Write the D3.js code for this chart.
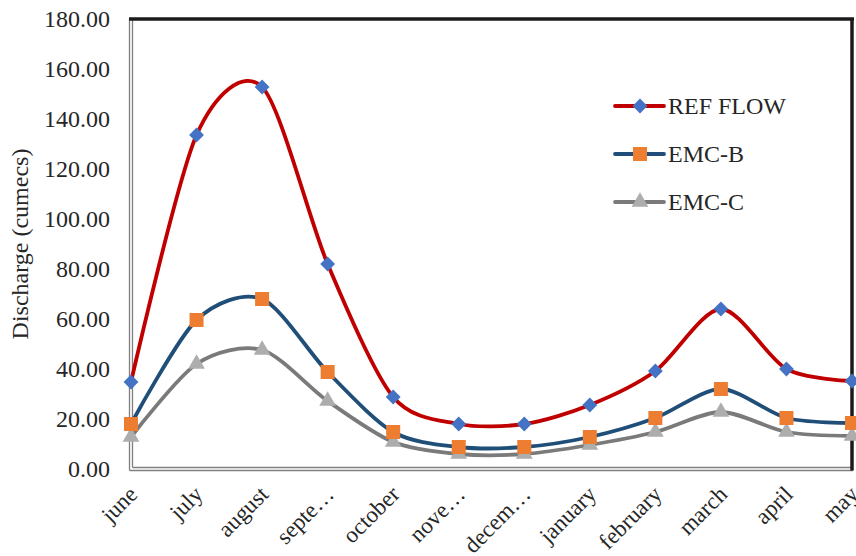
<!DOCTYPE html>
<html>
<head>
<meta charset="utf-8">
<script src="https://cdn.jsdelivr.net/npm/d3@7"></script>
<style>
  html, body { margin: 0; padding: 0; background: #fff; }
  svg { display: block; }
  text { font-family: "Liberation Serif", "Times New Roman", serif; fill: #262626; }
</style>
</head>
<body>
<svg id="chart" width="856" height="556"></svg>
<script>
// Monthly discharge data
const months = ["june", "july", "august", "septe\u2026", "october", "nove\u2026", "decem\u2026",
                "january", "february", "march", "april", "may"];
const refFlow = [34.8, 133.6, 152.8, 82.0, 28.8, 18.0, 18.0, 25.6, 39.2, 64.0, 40.0, 35.2];
const emcB    = [18.0, 59.6, 68.0, 38.8, 14.8, 8.8, 8.8, 12.8, 20.4, 32.0, 20.4, 18.4];
const emcC    = [12.8, 42.0, 47.6, 27.2, 10.8, 6.0, 6.0, 9.6, 14.8, 22.8, 14.8, 13.2];
const yTicks  = [0, 20, 40, 60, 80, 100, 120, 140, 160, 180];
const seriesNames = ["REF FLOW", "EMC-B", "EMC-C"];

const svg = d3.select("#chart");
const m = { left: 131, right: 852, top: 19, bottom: 469 };

const x = d3.scalePoint().domain(months).range([m.left, m.right]);
const y = d3.scaleLinear().domain([0, 180]).range([m.bottom, m.top]);

// y tick labels
svg.append("g").selectAll("text").data(yTicks).join("text")
  .attr("x", 110).attr("y", d => y(d)).attr("dy", "0.35em")
  .attr("text-anchor", "end").attr("font-size", 24)
  .text(d => d.toFixed(2));

// y axis title
svg.append("text")
  .attr("transform", `translate(28,${(m.top + m.bottom) / 2}) rotate(-90)`)
  .attr("text-anchor", "middle").attr("font-size", 24)
  .text("Discharge (cumecs)");

// x tick labels, rotated
svg.append("g").selectAll("text").data(months).join("text")
  .attr("transform", d => `translate(${x(d) + 2},${m.bottom + 21}) rotate(-45)`)
  .attr("text-anchor", "end").attr("font-size", 23).attr("dy", "0.35em")
  .text(d => d);

// plot frame: gray double line left/bottom, black heavy top/right
const frame = svg.append("g");
frame.append("line").attr("x1", m.left - 1.5).attr("x2", m.left - 1.5)
  .attr("y1", m.top).attr("y2", m.bottom + 1.5).attr("stroke", "#7f7f7f").attr("stroke-width", 1.3);
frame.append("line").attr("x1", m.left + 1.5).attr("x2", m.left + 1.5)
  .attr("y1", m.top).attr("y2", m.bottom - 1.5).attr("stroke", "#7f7f7f").attr("stroke-width", 1.3);
frame.append("line").attr("x1", m.left - 1.5).attr("x2", m.right + 1)
  .attr("y1", m.bottom + 1.5).attr("y2", m.bottom + 1.5).attr("stroke", "#7f7f7f").attr("stroke-width", 1.3);
frame.append("line").attr("x1", m.left + 1.5).attr("x2", m.right)
  .attr("y1", m.bottom - 1.5).attr("y2", m.bottom - 1.5).attr("stroke", "#7f7f7f").attr("stroke-width", 1.3);
frame.append("line").attr("x1", m.left - 2).attr("x2", m.right + 2)
  .attr("y1", m.top).attr("y2", m.top).attr("stroke", "#1a1a1a").attr("stroke-width", 3.5);
frame.append("line").attr("x1", m.right).attr("x2", m.right)
  .attr("y1", m.top).attr("y2", m.bottom + 1.5).attr("stroke", "#1a1a1a").attr("stroke-width", 3.5);

const series = [
  { name: seriesNames[0], values: refFlow, line: "#c00000", fill: "#4472c4", shape: d3.symbolDiamond2, size: 140 },
  { name: seriesNames[1], values: emcB,    line: "#1f4e79", fill: "#ed7d31", shape: d3.symbolSquare2, size: 250 },
  { name: seriesNames[2], values: emcC,    line: "#7a7a7a", fill: "#adadad", shape: d3.symbolTriangle2, size: 200 }
];

const line = d3.line()
  .x((d, i) => x(months[i]))
  .y(d => y(d))
  .curve(d3.curveCardinal.tension(0.15));

const plot = svg.append("g");
[...series].reverse().forEach(s => {
  plot.append("path").datum(s.values)
    .attr("d", line).attr("fill", "none")
    .attr("stroke", s.line).attr("stroke-width", 3.8).attr("stroke-linecap", "round");
});
[...series].reverse().forEach(s => {
  plot.append("g").selectAll("path").data(s.values).join("path")
    .attr("transform", (d, i) => `translate(${x(months[i])},${y(d)})`)
    .attr("d", d3.symbol().type(s.shape).size(s.size))
    .attr("fill", s.fill);
});

// legend
const legend = svg.append("g");
series.forEach((s, i) => {
  const ly = 106 + i * 48;
  legend.append("line").attr("x1", 615).attr("x2", 664).attr("y1", ly).attr("y2", ly)
    .attr("stroke", s.line).attr("stroke-width", 3.8).attr("stroke-linecap", "round");
  legend.append("path").attr("transform", `translate(640,${ly})`)
    .attr("d", d3.symbol().type(s.shape).size(s.size)).attr("fill", s.fill);
  legend.append("text").attr("x", 668).attr("y", ly).attr("dy", "0.35em")
    .attr("font-size", 24).text(s.name);
});
</script>
</body>
</html>
